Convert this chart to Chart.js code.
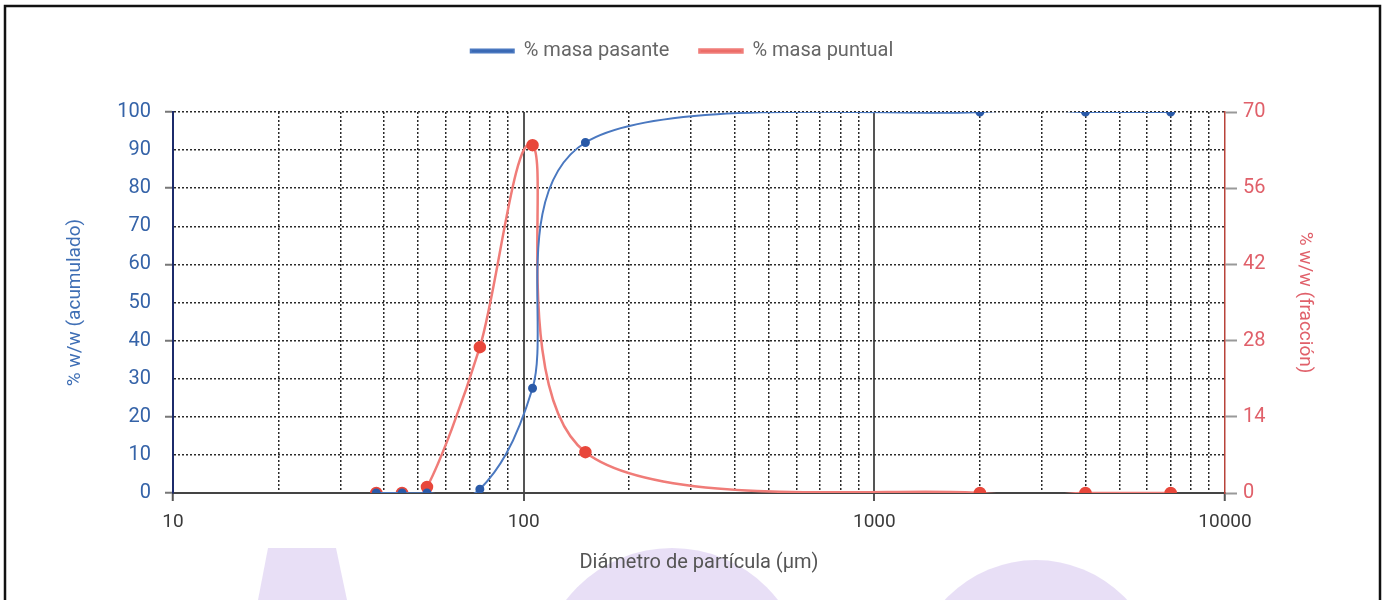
<!DOCTYPE html>
<html><head><meta charset="utf-8">
<script src="https://cdn.jsdelivr.net/npm/chart.js@4/dist/chart.umd.min.js"></script>
<style>html,body{margin:0;padding:0;background:#fff}#wrap{width:1394px;height:600px;position:relative}</style>
</head><body><div id="wrap"><canvas id="c" width="1394" height="600"></canvas></div>
<script>
// ---- data ----
const sizes = [38, 45, 53, 75, 106, 150, 2000, 4000, 7000];
const masaPasante = [0, 0, 0, 1, 27.5, 92, 100, 100, 100];
const masaPuntual = [0, 0, 1.1, 26.8, 63.9, 7.5, 0, 0, 0];
const seriesNames = ['% masa pasante', '% masa puntual'];
const xTickLabels = ['10', '100', '1000', '10000'];
const xDecades = [10, 100, 1000];
const leftTickStep = 10;
const rightTickStep = 14;
const leftTitle = '% w/w (acumulado)';
const rightTitle = '% w/w (fracción)';
const xTitle = 'Diámetro de partícula (µm)';

const FONT = 'Roboto, "Liberation Sans", sans-serif';
const xMajor = xTickLabels.map(Number);

// grid values of a log axis: 1..9 x each decade, plus the last decade
const xGrid = [];
xDecades.forEach(d => { for (let k = 1; k <= 9; k++) xGrid.push(d * k); });
xGrid.push(10000);

const isSolid = v => v === 100 || v === 1000;

// spreadsheet-style smoothing: control points = neighbour chord / 6,
// computed from the pixel positions Chart.js gave the points
const smoothLines = {
  id: 'smoothLines',
  beforeDatasetDraw(chart, args) {
    const line = args.meta.dataset;
    if (!line) return;
    if (line.updateControlPoints) line.updateControlPoints(chart.chartArea, 'x');
    const pts = line.points || args.meta.data;
    const n = pts.length;
    for (let i = 0; i < n; i++) {
      const p = pts[i];
      const prev = pts[Math.max(0, i - 1)];
      const next = pts[Math.min(n - 1, i + 1)];
      const dx = (next.x - prev.x) / 6, dy = (next.y - prev.y) / 6;
      p.cp1x = p.x - dx; p.cp1y = p.y - dy;
      p.cp2x = p.x + dx; p.cp2y = p.y + dy;
    }
    line._path = undefined;
  }
};

const decor = {
  id: 'decor',
  beforeDraw(chart) {
    const c = chart.ctx;
    c.save();
    c.fillStyle = '#ffffff';
    c.fillRect(0, 0, chart.width, chart.height);
    // light lavender watermark at the bottom
    c.fillStyle = 'rgba(214,196,238,0.55)';
    c.beginPath();
    c.moveTo(268, 548); c.lineTo(336, 548); c.lineTo(347, 600); c.lineTo(258, 600); c.closePath();
    c.fill();
    c.beginPath(); c.arc(672, 682, 134, 0, Math.PI * 2); c.fill();
    c.beginPath(); c.arc(1036, 684, 124, 0, Math.PI * 2); c.fill();
    c.restore();
  },
  afterDraw(chart) {
    const c = chart.ctx;
    c.save();
    c.strokeStyle = '#111';
    c.lineWidth = 2.5;
    c.beginPath();
    c.moveTo(5, 600); c.lineTo(5, 6); c.lineTo(1380, 6); c.lineTo(1380, 600);
    c.stroke();
    c.restore();
  }
};

new Chart(document.getElementById('c'), {
  type: 'line',
  data: {
    datasets: [
      {
        label: seriesNames[0],
        data: sizes.map((s, i) => ({x: s, y: masaPasante[i]})),
        yAxisID: 'y',
        borderColor: '#4a78c0',
        backgroundColor: '#2a5aa8',
        pointBackgroundColor: '#2a5aa8',
        pointBorderColor: '#2a5aa8',
        pointRadius: 3.5,
        borderWidth: 2,
        tension: 0.4
      },
      {
        label: seriesNames[1],
        data: sizes.map((s, i) => ({x: s, y: masaPuntual[i]})),
        yAxisID: 'y1',
        borderColor: '#f07c78',
        backgroundColor: '#e0433a',
        pointBackgroundColor: '#e8473b',
        pointBorderColor: '#e8473b',
        pointRadius: 5,
        borderWidth: 2.5,
        tension: 0.4
      }
    ]
  },
  options: {
    responsive: false,
    animation: false,
    devicePixelRatio: 1,
    layout: {padding: {top: 11, left: 0, right: 30, bottom: 0}},
    plugins: {
      legend: {
        position: 'top',
        labels: {
          boxWidth: 43, boxHeight: 3, padding: 30,
          color: '#666',
          font: {family: FONT, size: 20}
        }
      },
      subtitle: {
        display: true, text: '', position: 'top', weight: 500,
        font: {size: 10}, padding: {top: 29, bottom: 0}
      },
      tooltip: {enabled: false}
    },
    scales: {
      x: {
        type: 'logarithmic',
        min: 10, max: 10000,
        afterBuildTicks(scale) {
          scale.ticks = xGrid.map(v => ({value: v, major: xMajor.includes(v)}));
        },
        afterFit(scale) { scale.height = 107; },
        ticks: {
          autoSkip: false, maxRotation: 0, padding: 10,
          color: '#3a3a3a',
          font: {family: FONT, size: 19},
          callback: (v) => xTickLabels.includes(String(v)) ? String(v) : ''
        },
        grid: {
          color: ctx => {
            const v = ctx.tick && ctx.tick.value;
            if (v === 10 || v === 10000) return 'rgba(0,0,0,0)';
            return isSolid(v) ? '#555' : '#2a2a2a';
          },
          lineWidth: ctx => isSolid(ctx.tick && ctx.tick.value) ? 2 : 1.5,
          tickColor: ctx => xMajor.includes(ctx.tick && ctx.tick.value) ? '#555' : 'rgba(0,0,0,0)',
          tickLength: 8,
          tickWidth: 2,
          tickBorderDash: []
        },
        border: {
          display: true, color: '#444', width: 2,
          dash: ctx => isSolid(ctx.tick && ctx.tick.value) ? [] : [2, 2]
        },
        title: {
          display: true, text: xTitle, color: '#555',
          font: {family: FONT, size: 20},
          padding: {top: 0, bottom: 25}
        }
      },
      y: {
        position: 'left',
        min: 0, max: 100,
        afterFit(scale) { scale.width = 173; },
        ticks: {
          stepSize: leftTickStep, padding: 14,
          color: '#3563a8',
          font: {family: FONT, size: 20}
        },
        grid: {
          color: '#2a2a2a',
          lineWidth: 1.5,
          tickColor: ctx => (ctx.tick && ctx.tick.value % 20 === 0) ? '#777' : 'rgba(0,0,0,0)',
          tickLength: 8,
          tickWidth: 2,
          tickBorderDash: []
        },
        border: {display: true, color: '#1c2b6b', width: 2, dash: [2, 2]},
        title: {
          display: true, text: leftTitle, color: '#3f6fb5',
          font: {family: FONT, size: 19},
          padding: {top: 64, bottom: 0}
        }
      },
      y1: {
        position: 'right',
        min: 0, max: 70,
        afterFit(scale) { scale.width = 139; },
        ticks: {
          stepSize: rightTickStep, padding: 6,
          color: '#e0606a',
          font: {family: FONT, size: 20}
        },
        grid: {
          drawOnChartArea: false,
          tickColor: '#999',
          tickLength: 12,
          tickWidth: 2
        },
        border: {display: true, color: '#b8433a', width: 1.5},
        title: {
          display: true, text: rightTitle, color: '#e0606a',
          font: {family: FONT, size: 19},
          padding: {top: 48, bottom: 0}
        }
      }
    }
  },
  plugins: [decor, smoothLines]
});
</script>
</body></html>
